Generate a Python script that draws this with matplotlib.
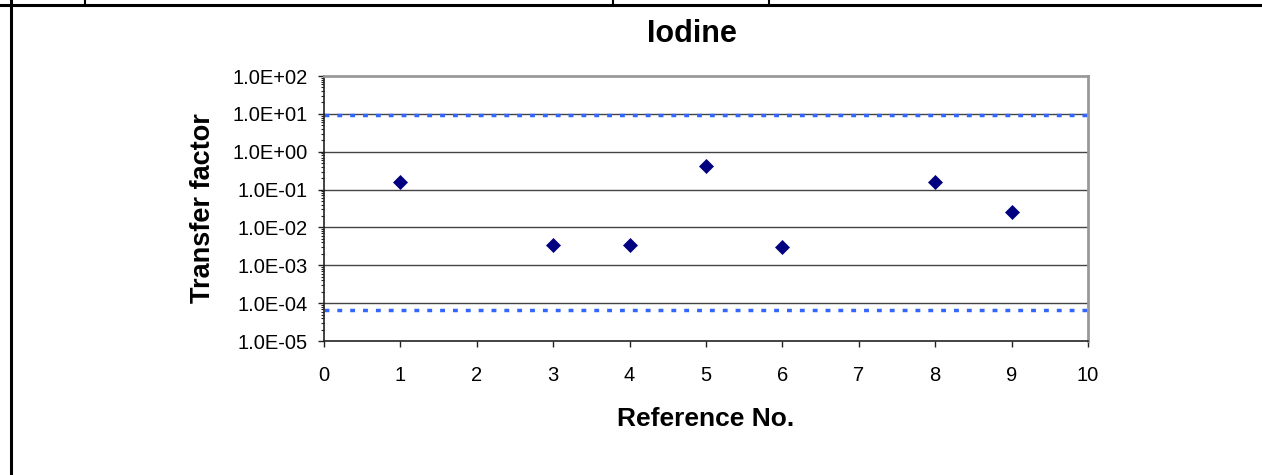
import matplotlib
matplotlib.use("Agg")
import matplotlib.pyplot as plt
from matplotlib.lines import Line2D
from matplotlib.ticker import LogLocator, NullFormatter, FixedLocator

plt.rcParams['font.family'] = ['Liberation Sans', 'DejaVu Sans']

# data
ref_no = [1, 3, 4, 5, 6, 8, 9]
transfer = [0.16, 0.0034, 0.0034, 0.43, 0.0030, 0.16, 0.025]
upper_limit = 9.5
lower_limit = 6.5e-5
x_ticks = [0, 1, 2, 3, 4, 5, 6, 7, 8, 9, 10]
y_ticks = [1e-5, 1e-4, 1e-3, 1e-2, 1e-1, 1e0, 1e1, 1e2]
y_labels = ["1.0E-05", "1.0E-04", "1.0E-03", "1.0E-02", "1.0E-01",
            "1.0E+00", "1.0E+01", "1.0E+02"]

W, H = 1262, 475
fig = plt.figure(figsize=(W / 100, H / 100), dpi=100)
ax = fig.add_axes([324 / W, 1 - 341 / H, (1088 - 324) / W, (341 - 76) / H])

ax.set_yscale("log")
ax.set_xlim(0, 10)
ax.set_ylim(1e-5, 1e2)

# gridlines at each decade
for v in y_ticks[1:-1]:
    ax.axhline(v, color="#444444", lw=1.0, zorder=1)

# dotted limit lines
for v in (upper_limit, lower_limit):
    ax.axhline(v, color="#3366ff", lw=2.5, dashes=(1.4, 2.3), zorder=2)

ax.plot(ref_no, transfer, linestyle="none", marker="D", ms=7.5,
        color="#000080", mec="#000080", mew=0.5, zorder=3)

ax.yaxis.set_major_locator(FixedLocator(y_ticks))
ax.set_yticklabels(y_labels)
ax.yaxis.set_minor_locator(LogLocator(base=10, subs=range(2, 10), numticks=20))
ax.yaxis.set_minor_formatter(NullFormatter())
ax.set_xticks(x_ticks)

ax.tick_params(axis="y", which="major", direction="out", length=4.5, width=1,
               labelsize=14.5, pad=7, color="#222222")
ax.tick_params(axis="y", which="minor", direction="out", length=2.5, width=0.8,
               color="#222222")
ax.tick_params(axis="x", direction="out", length=4, width=1, labelsize=14.5,
               pad=14, color="#222222")

for s in ("left", "bottom"):
    ax.spines[s].set_color("#222222")
    ax.spines[s].set_linewidth(1.2)
for s in ("top", "right"):
    ax.spines[s].set_color("#999999")
    ax.spines[s].set_linewidth(2)

ax.set_xlabel("Reference No.", fontsize=19, fontweight="bold", labelpad=16)
ax.set_ylabel("Transfer factor", fontsize=19.5, fontweight="bold", labelpad=12)
fig.text(692 / W, 1 - 34 / H, "Iodine", fontsize=22, fontweight="bold",
         ha="center", va="center")

# surrounding table lines of the page
fig.add_artist(Line2D([0, 1], [1 - 5 / H, 1 - 5 / H], color="black", lw=2.2))
fig.add_artist(Line2D([11 / W, 11 / W], [0, 1], color="black", lw=2.2))
for xp in (85, 613, 769):
    fig.add_artist(Line2D([xp / W, xp / W], [1 - 5 / H, 1], color="black", lw=1.5))

fig.savefig("out.png", dpi=100)
